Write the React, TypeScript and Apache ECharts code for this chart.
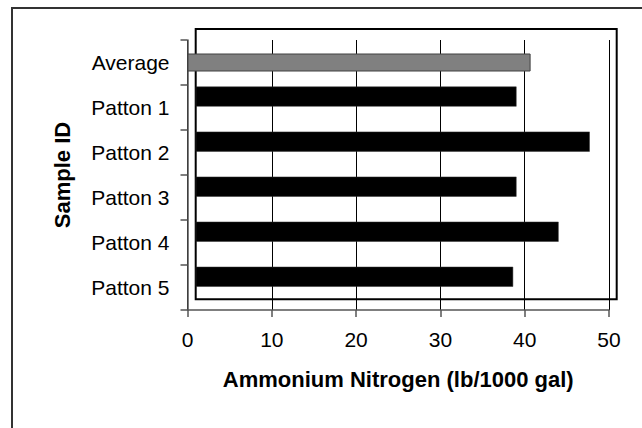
import React, { useEffect, useRef } from "react";
import * as echarts from "echarts";

const categories = ["Average", "Patton 1", "Patton 2", "Patton 3", "Patton 4", "Patton 5"];
const averageValues: (number | string)[] = [40.7, "-", "-", "-", "-", "-"];
const sampleValues: (number | string)[] = ["-", 38.1, 46.8, 38.1, 43.1, 37.7];
const xTicks = { min: 0, max: 50, interval: 10 };
const xAxisTitle = "Ammonium Nitrogen (lb/1000 gal)";
const yAxisTitle = "Sample ID";

const FONT = "'Liberation Sans', Arial, sans-serif";

export default function App() {
  const ref = useRef<HTMLDivElement>(null);
  useEffect(() => {
    if (!ref.current) return;
    const chart = echarts.init(ref.current, undefined, { renderer: "svg" });
    const axisGray = "#555555";
    chart.setOption({
      animation: false,
      backgroundColor: "#ffffff",
      textStyle: { fontFamily: FONT },
      graphic: [
        {
          type: "rect",
          shape: { x: 12, y: 8, width: 800, height: 600 },
          style: { fill: "none", stroke: "#333333", lineWidth: 2 },
          silent: true,
          z: -10,
        },
      ],
      grid: [
        { left: 187.5, right: 33, top: 40, bottom: 118, show: false },
        {
          left: 195.7,
          right: 25.3,
          top: 29,
          bottom: 128.7,
          show: true,
          borderColor: "#000000",
          borderWidth: 2,
          backgroundColor: "transparent",
        },
      ],
      xAxis: [
        {
          type: "value",
          gridIndex: 0,
          min: xTicks.min,
          max: xTicks.max,
          interval: xTicks.interval,
          axisLine: { show: true, lineStyle: { color: axisGray, width: 1.5 } },
          axisTick: { show: true, length: 7, lineStyle: { color: axisGray, width: 1.5 } },
          axisLabel: { color: "#000", fontSize: 21, fontFamily: FONT, margin: 19 },
          splitLine: { show: true, lineStyle: { color: "#000", width: 1 } },
          name: xAxisTitle,
          nameLocation: "middle",
          nameGap: 58,
          nameTextStyle: { color: "#000", fontSize: 22, fontWeight: "bold", fontFamily: FONT },
        },
        {
          type: "value",
          gridIndex: 1,
          min: xTicks.min,
          max: xTicks.max,
          show: false,
          splitLine: { show: false },
        },
      ],
      yAxis: [
        {
          type: "category",
          gridIndex: 0,
          data: categories,
          inverse: true,
          axisLine: { show: true, lineStyle: { color: axisGray, width: 1.5 } },
          axisTick: { show: true, length: 7, lineStyle: { color: axisGray, width: 1.5 } },
          axisLabel: { color: "#000", fontSize: 21, fontFamily: FONT, margin: 18 },
          splitLine: { show: false },
          name: yAxisTitle,
          nameLocation: "middle",
          nameGap: 114,
          nameTextStyle: { color: "#000", fontSize: 22, fontWeight: "bold", fontFamily: FONT },
        },
        {
          type: "category",
          gridIndex: 1,
          data: categories,
          inverse: true,
          show: false,
        },
      ],
      series: [
        {
          type: "bar",
          xAxisIndex: 1,
          yAxisIndex: 1,
          data: sampleValues,
          barWidth: 20,
          itemStyle: { color: "#000000", borderColor: "#333333", borderWidth: 0.5 },
          z: 3,
        },
        {
          type: "bar",
          xAxisIndex: 0,
          yAxisIndex: 0,
          data: averageValues,
          barWidth: 18,
          itemStyle: { color: "#808080", borderColor: "#404040", borderWidth: 1 },
          z: 4,
        },
      ],
    });
    return () => chart.dispose();
  }, []);
  return (
    <div
      ref={ref}
      style={{ position: "absolute", left: 0, top: 0, width: 642, height: 428 }}
    />
  );
}
